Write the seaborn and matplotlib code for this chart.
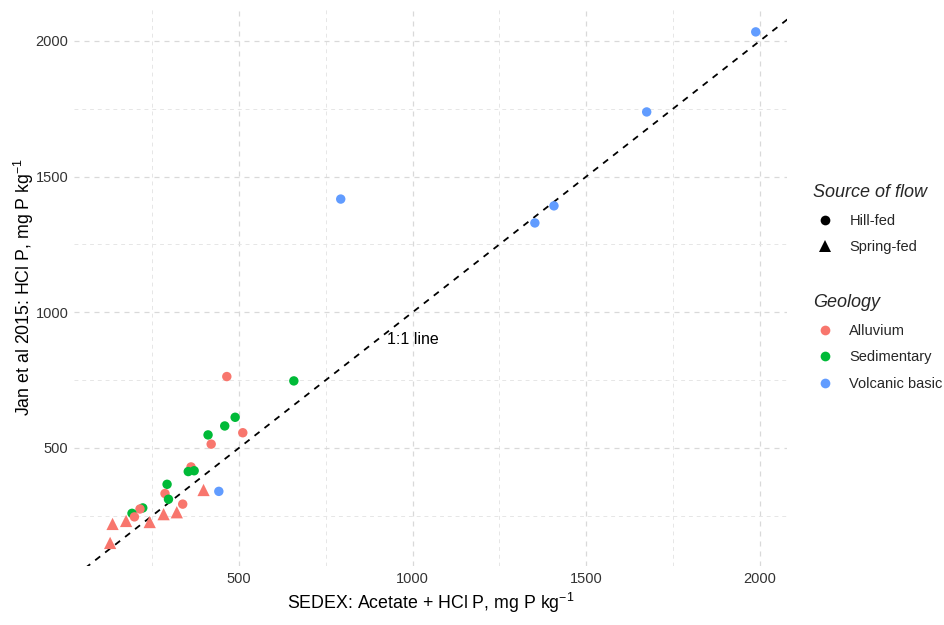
import numpy as np
import pandas as pd
import matplotlib
matplotlib.use("Agg")
import matplotlib.pyplot as plt
from matplotlib.lines import Line2D
from matplotlib.ticker import FixedLocator
import seaborn as sns

# ---- data ----
sedex = [465, 489, 459, 411, 511, 420, 362, 354, 371, 293, 287, 297,
         398, 442, 338, 321, 283, 243, 223, 215, 192, 199, 175, 136, 129,
         658, 793, 1352, 1407, 1674, 1988]
jan2015 = [763, 613, 581, 548, 556, 514, 430, 413, 416, 366, 332, 311,
           345, 340, 293, 263, 256, 227, 279, 275, 259, 246, 231, 220, 150,
           747, 1417, 1329, 1392, 1738, 2033]
geology = ["Alluvium", "Sedimentary", "Sedimentary", "Sedimentary", "Alluvium",
           "Alluvium", "Alluvium", "Sedimentary", "Sedimentary", "Sedimentary",
           "Alluvium", "Sedimentary", "Alluvium", "Volcanic basic", "Alluvium",
           "Alluvium", "Alluvium", "Alluvium", "Sedimentary", "Alluvium",
           "Sedimentary", "Alluvium", "Alluvium", "Alluvium", "Alluvium",
           "Sedimentary", "Volcanic basic", "Volcanic basic", "Volcanic basic",
           "Volcanic basic", "Volcanic basic"]
source = ["Hill-fed", "Hill-fed", "Hill-fed", "Hill-fed", "Hill-fed",
          "Hill-fed", "Hill-fed", "Hill-fed", "Hill-fed", "Hill-fed",
          "Hill-fed", "Hill-fed", "Spring-fed", "Hill-fed", "Hill-fed",
          "Spring-fed", "Spring-fed", "Spring-fed", "Hill-fed", "Hill-fed",
          "Hill-fed", "Hill-fed", "Spring-fed", "Spring-fed", "Spring-fed",
          "Hill-fed", "Hill-fed", "Hill-fed", "Hill-fed", "Hill-fed", "Hill-fed"]
geo_levels = ["Alluvium", "Sedimentary", "Volcanic basic"]
geo_colors = ["#F8766D", "#00BA38", "#619CFF"]
src_levels = ["Hill-fed", "Spring-fed"]
src_markers = ["o", "^"]
src_sizes = [46, 78]
major_ticks = [500, 1000, 1500, 2000]
minor_ticks = [250, 750, 1250, 1750]

df = pd.DataFrame({"sedex": sedex, "jan": jan2015,
                   "Geology": geology, "Source of flow": source})

sns.set_theme(style="white")
plt.rcParams["font.family"] = ["Liberation Sans", "DejaVu Sans"]
plt.rcParams["mathtext.default"] = "regular"

fig = plt.figure(figsize=(9.44, 6.25), dpi=100)
ax = fig.add_axes([74 / 944, 1 - 566 / 625, (787 - 74) / 944, (566 - 8) / 625])

xlim = (25, 2078)
ylim = (65, 2121)

# 1:1 line
lx = np.array([0, 2200])
ax.plot(lx, lx, color="black", linestyle=(0, (3.5, 3.5)), linewidth=1.3, zorder=2)

sns.scatterplot(data=df, x="sedex", y="jan", hue="Geology", hue_order=geo_levels,
                palette=geo_colors, style="Source of flow", style_order=src_levels,
                markers=dict(zip(src_levels, src_markers)),
                size="Source of flow", size_order=src_levels,
                sizes=dict(zip(src_levels, src_sizes)), linewidth=0,
                legend=False, ax=ax, zorder=3)

ax.text(1000, 900, "1:1 line", fontsize=11.5, color="black", ha="center", va="center")

ax.set_xlim(*xlim)
ax.set_ylim(*ylim)
ax.xaxis.set_major_locator(FixedLocator(major_ticks))
ax.yaxis.set_major_locator(FixedLocator(major_ticks))
ax.xaxis.set_minor_locator(FixedLocator(minor_ticks))
ax.yaxis.set_minor_locator(FixedLocator(minor_ticks))
ax.grid(which="major", color="#d9d9d9", linestyle=(0, (4, 4)), linewidth=0.9)
ax.grid(which="minor", color="#e6e6e6", linestyle=(0, (4, 4)), linewidth=0.7)
ax.set_axisbelow(True)
for sp in ax.spines.values():
    sp.set_visible(False)
ax.tick_params(axis="both", which="both", length=0, labelsize=10.5,
               labelcolor="#333333", pad=4)

ax.set_xlabel(r"SEDEX: Acetate + HCl P, mg P kg$^{-1}$", fontsize=12.8, color="black", labelpad=4)
ax.set_ylabel(r"Jan et al 2015: HCl P, mg P kg$^{-1}$", fontsize=12.8, color="black", labelpad=0)

# legends
src_handles = [Line2D([0], [0], marker=m, color="none", markerfacecolor="black",
                      markeredgewidth=0, markersize=ms, linestyle="none")
               for m, ms in zip(src_markers, [7, 8.5])]
geo_handles = [Line2D([0], [0], marker="o", color="none", markerfacecolor=c,
                      markeredgewidth=0, markersize=7, linestyle="none")
               for c in geo_colors]

common = dict(frameon=False, fontsize=10.5, labelspacing=0.88, handletextpad=0.8,
              borderaxespad=0, handlelength=1.7, alignment="left",
              title_fontproperties={"style": "italic", "size": 13})
leg1 = fig.legend(src_handles, src_levels, title="Source of flow", loc="upper left",
                  bbox_to_anchor=(807 / 944, 1 - 178 / 625), **common)
leg2 = fig.legend(geo_handles, geo_levels, title="Geology", loc="upper left",
                  bbox_to_anchor=(807 / 944, 1 - 288 / 625), **common)

fig.savefig("out.png", dpi=100)
